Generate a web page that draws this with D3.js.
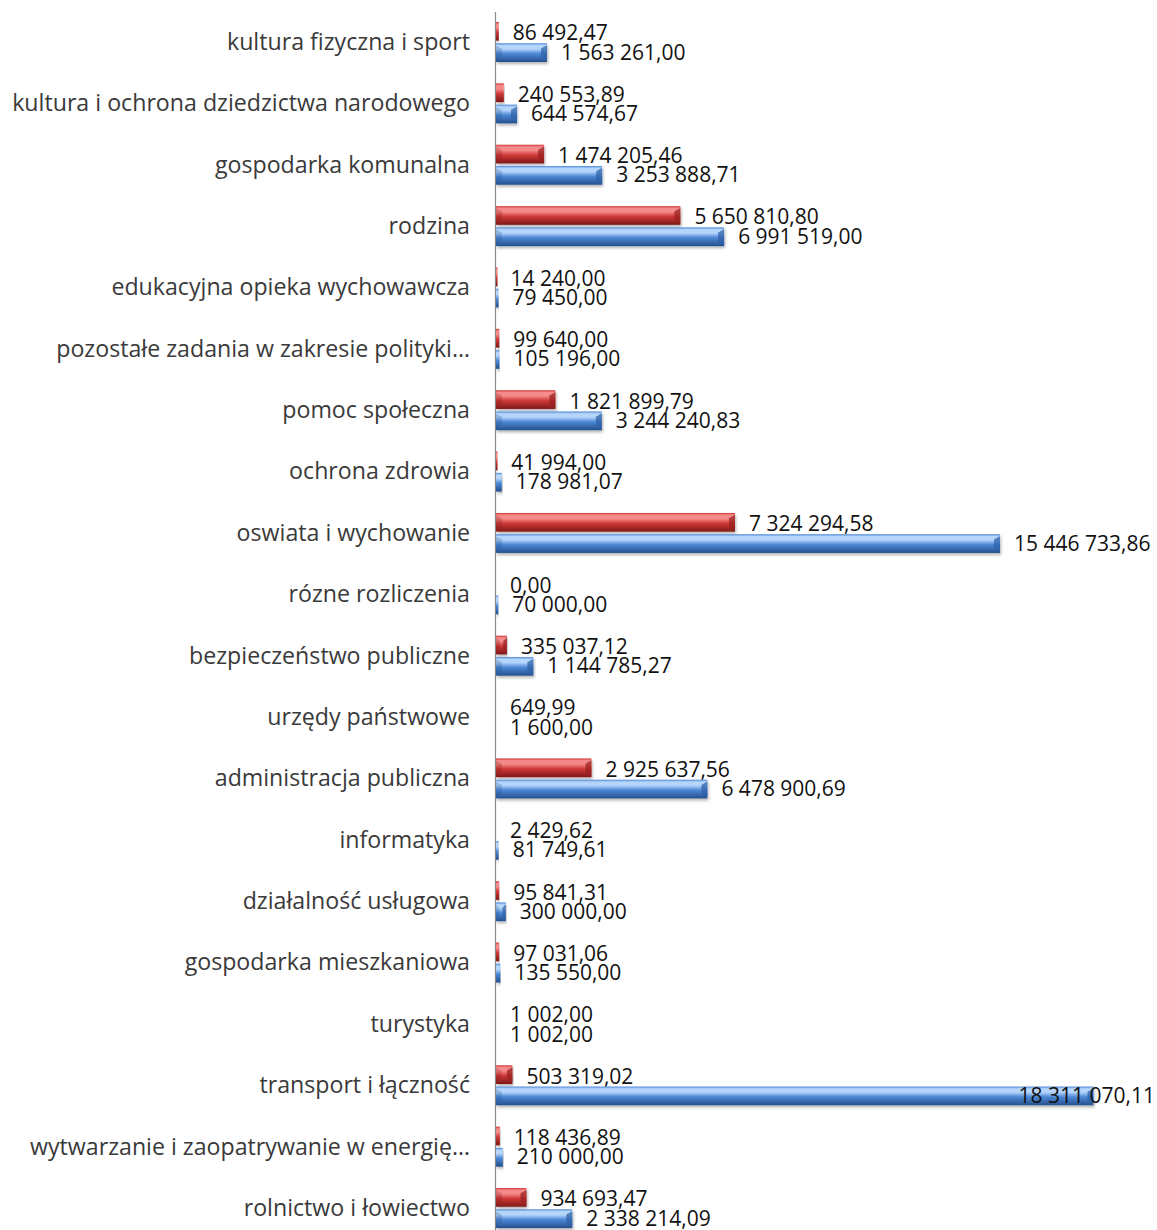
<!DOCTYPE html>
<html><head><meta charset="utf-8">
<script src="https://cdn.jsdelivr.net/npm/d3@7"></script>
<style>html,body{margin:0;padding:0;background:#fff;}</style>
</head><body>
<svg id="chart" width="1157" height="1230"></svg>
<script>
const categories = [
  "kultura fizyczna i sport",
  "kultura i ochrona dziedzictwa narodowego",
  "gospodarka komunalna",
  "rodzina",
  "edukacyjna opieka wychowawcza",
  "pozostałe zadania w zakresie polityki…",
  "pomoc społeczna",
  "ochrona zdrowia",
  "oswiata i wychowanie",
  "rózne rozliczenia",
  "bezpieczeństwo publiczne",
  "urzędy państwowe",
  "administracja publiczna",
  "informatyka",
  "działalność usługowa",
  "gospodarka mieszkaniowa",
  "turystyka",
  "transport i łączność",
  "wytwarzanie i zaopatrywanie w energię…",
  "rolnictwo i łowiectwo"
];
const seriesRed = [86492.47, 240553.89, 1474205.46, 5650810.80, 14240.00, 99640.00, 1821899.79, 41994.00, 7324294.58, 0.00, 335037.12, 649.99, 2925637.56, 2429.62, 95841.31, 97031.06, 1002.00, 503319.02, 118436.89, 934693.47];
const seriesBlue = [1563261.00, 644574.67, 3253888.71, 6991519.00, 79450.00, 105196.00, 3244240.83, 178981.07, 15446733.86, 70000.00, 1144785.27, 1600.00, 6478900.69, 81749.61, 300000.00, 135550.00, 1002.00, 18311070.11, 210000.00, 2338214.09];
const seriesKeys = ["red", "blue"];

const W = 1157, H = 1230;
const FONT = "'Open Sans', 'Noto Sans', sans-serif";
const CAP = 0.714; // cap height of Open Sans in em
const svg = d3.select("#chart");
const x = d3.scaleLinear().domain([0, 20000000]).range([496, 496 + 20 * 32.63]);
const y = d3.scaleBand().domain(categories).range([11.3, 1238.7]).padding(0);
const ys = d3.scaleBand().domain(seriesKeys).range([y.bandwidth()/2 - 20, y.bandwidth()/2 + 20]).paddingInner(0.12);

const loc = d3.formatLocale({decimal: ",", thousands: "\u00a0", grouping: [3], currency: ["", ""]});
const fmt = loc.format(",.2f");

function measure(txt, size) {
  const t = svg.append("text").attr("font-family", FONT).attr("font-size", size).text(txt);
  const w = t.node().getComputedTextLength();
  t.remove();
  return w;
}
const catSize = Math.min(24, 21 * 458 / measure("kultura i ochrona dziedzictwa narodowego", 21));
const valSize = Math.min(21, 20 * 143 / measure(fmt(15446733.86), 20));

const defs = svg.append("defs");
const palette = {
  red:  {hi: "#f58a8a", mid: "#cf3a38", lo: "#7e1716", cap: "#9a2220"},
  blue: {hi: "#b5d5fa", mid: "#4d88d6", lo: "#244f8c", cap: "#2f62a8"}
};
for (const k of seriesKeys) {
  const g = defs.append("linearGradient").attr("id", "g-" + k).attr("x1", 0).attr("y1", 0).attr("x2", 0).attr("y2", 1);
  const p = palette[k];
  g.append("stop").attr("offset", "0%").attr("stop-color", p.mid);
  g.append("stop").attr("offset", "12%").attr("stop-color", p.hi);
  g.append("stop").attr("offset", "30%").attr("stop-color", p.hi);
  g.append("stop").attr("offset", "55%").attr("stop-color", p.mid);
  g.append("stop").attr("offset", "100%").attr("stop-color", p.lo);
}
const f = defs.append("filter").attr("id", "shadow").attr("x", "-5%").attr("y", "-30%").attr("width", "110%").attr("height", "180%");
f.append("feDropShadow").attr("dx", 1).attr("dy", 2).attr("stdDeviation", 1.8).attr("flood-color", "#000").attr("flood-opacity", 0.3);

// category labels
svg.append("g").selectAll("text").data(categories).join("text")
  .attr("x", 470).attr("y", d => y(d) + y.bandwidth()/2 + catSize * 0.34)
  .attr("text-anchor", "end")
  .attr("font-family", FONT).attr("font-size", catSize)
  .attr("fill", "#3a3a3a").text(d => d);

// axis line
svg.append("line").attr("x1", 495.5).attr("x2", 495.5).attr("y1", 12).attr("y2", H)
  .attr("stroke", "#8c8c8c").attr("stroke-width", 1.2);

const rows = [];
categories.forEach((c, i) => {
  rows.push({cat: c, key: "red", v: seriesRed[i]});
  rows.push({cat: c, key: "blue", v: seriesBlue[i]});
});

const bars = svg.append("g").selectAll("g").data(rows).join("g")
  .attr("transform", d => `translate(0,${y(d.cat) + ys(d.key)})`);

bars.filter(d => x(d.v) - x(0) > 0.3).each(function(d) {
  const g = d3.select(this);
  const w = Math.max(x(d.v) - x(0), 1.5);
  const h = ys.bandwidth();
  const x0 = x(0);
  g.append("rect").attr("x", x0).attr("y", 0).attr("width", w).attr("height", h)
    .attr("fill", `url(#g-${d.key})`).attr("filter", "url(#shadow)");
  if (w > 8) {
    const c = Math.min(6, w / 3);
    const xe = x0 + w;
    g.append("path")
      .attr("d", `M${xe - c},${h*0.28} L${xe},${h*0.1} L${xe},${h*0.9} L${xe - c},${h*0.75} Z`)
      .attr("fill", palette[d.key].cap).attr("opacity", 0.75);
    g.append("path")
      .attr("d", `M${x0},${h*0.12} L${x0 + c},${h*0.3} L${x0 + c},${h*0.72} L${x0},${h*0.88} Z`)
      .attr("fill", palette[d.key].lo).attr("opacity", 0.25);
  }
});

// value labels (digit centre placed near the bar centre)
bars.append("text")
  .attr("x", d => x(d.v) + 14)
  .attr("y", d => ys.bandwidth()/2 + (d.key === "red" ? 1.5 : -0.5) + valSize * CAP / 2)
  .attr("font-family", FONT).attr("font-size", valSize)
  .attr("fill", "#111").text(d => fmt(d.v))
  .each(function(d) {
    const t = d3.select(this);
    const tw = this.getComputedTextLength();
    const xx = x(d.v) + 14;
    if (xx + tw > W - 2) t.attr("x", W - 2 - tw);
  });
</script>
</body></html>
